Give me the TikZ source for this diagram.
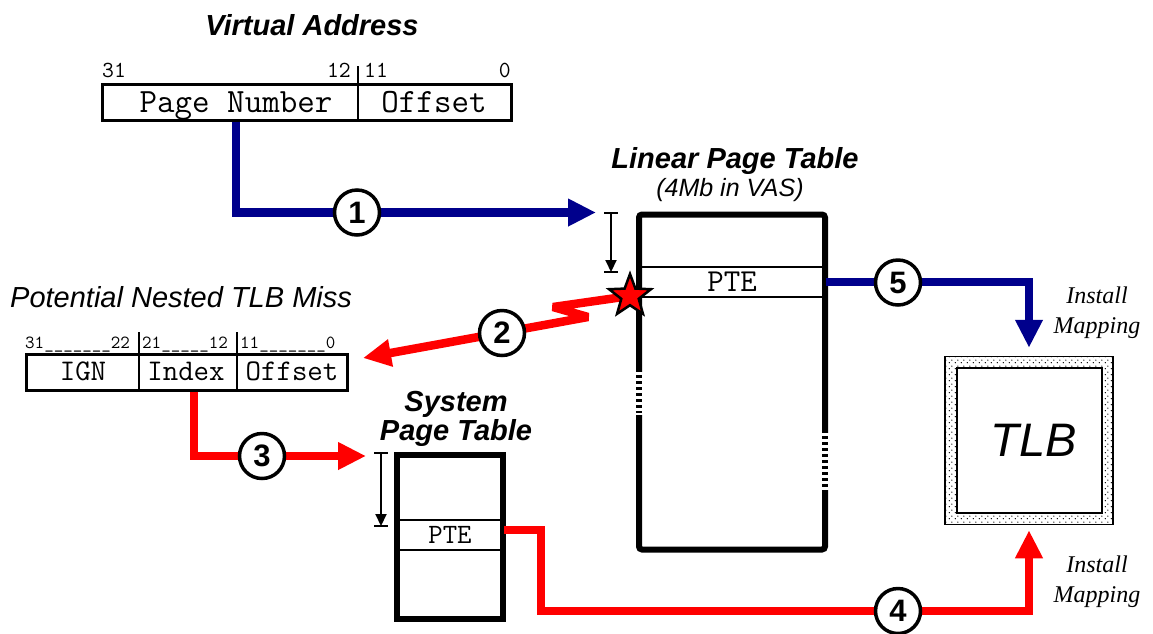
\documentclass[tikz,border=0pt]{standalone}
\usepackage{fontspec}
\setsansfont{Liberation Sans}
\newfontfamily\serifalt{Liberation Serif}
\usetikzlibrary{arrows.meta,shapes.geometric,patterns}

\definecolor{navy}{RGB}{0,0,140}
\definecolor{hotred}{RGB}{255,0,0}

\pgfdeclarepatternformonly{tlbdots}{\pgfqpoint{0pt}{0pt}}{\pgfqpoint{6pt}{6pt}}{\pgfqpoint{6pt}{6pt}}{%
  \pgfpathcircle{\pgfqpoint{1.5pt}{1.5pt}}{0.8pt}
  \pgfpathcircle{\pgfqpoint{4.5pt}{4.5pt}}{0.8pt}
  \pgfusepath{fill}}

\tikzset{
  heading/.style={font=\sffamily\bfseries\itshape\fontsize{29}{27}\selectfont, align=center, inner sep=0},
  remark/.style={font=\sffamily\itshape\fontsize{29}{29}\selectfont, inner sep=0},
  install/.style={font=\serifalt\itshape\fontsize{24}{30}\selectfont, align=center, inner sep=0},
  regbox/.style={draw, line width=3, inner sep=0, minimum height=36},
  addrfield/.style={inner sep=0, font=\ttfamily\fontsize{34}{34}\selectfont},
  bitnum/.style={inner sep=0, font=\ttfamily\fontsize{23}{23}\selectfont},
  pagetable/.style={draw, line width=6, inner sep=0},
  pterow/.style={draw, line width=2, inner sep=0, minimum height=30},
  flow/.style={line width=8.5, line join=miter, -{Triangle[length=28pt,width=26pt]}},
  blueflow/.style={flow, draw=navy},
  redflow/.style={flow, draw=hotred},
  stepnum/.style={circle, draw, line width=3.5, fill=white, minimum size=45, inner sep=0,
    font=\sffamily\bfseries\fontsize{31}{31}\selectfont},
  dimarrow/.style={line width=2, -{Triangle[length=12pt,width=11pt]}},
  missstar/.style={star, star points=5, star point ratio=2.4, fill=hotred, draw, line width=2.5,
    minimum size=44, inner sep=0},
}

\begin{document}
\begin{tikzpicture}[x=1pt,y=-1pt]
\useasboundingbox (0,0) rectangle (1153,633);

% virtual address
\node[heading] (va-title) at (312,25) {Virtual Address};
\node[regbox, minimum width=409] (va) at (306.5,102) {};
\node[addrfield, anchor=base] (va-pn) at (236,112) {Page Number};
\node[addrfield, anchor=base] (va-off) at (434,112) {Offset};
\draw[line width=2] (358,66) -- (358,120);
\node[bitnum, anchor=base west] (va-b31) at (102,77) {31};
\node[bitnum, anchor=base east] (va-b12) at (351,77) {12};
\node[bitnum, anchor=base west] (va-b11) at (364,77) {11};
\node[bitnum, anchor=base east] (va-b0) at (511,77) {0};

% linear page table
\node[heading, anchor=base] (lpt-title) at (735,168) {Linear Page Table};
\node[remark, anchor=base, font=\sffamily\itshape\fontsize{25}{25}\selectfont] (lpt-size) at (730,196) {(4Mb in VAS)};
\node[pagetable, rounded corners=3, minimum width=186, minimum height=335] (lpt) at (732,382) {};
\node[pterow, minimum width=186, font=\ttfamily\fontsize{32}{32}\selectfont] (lpt-pte) at (732,282) {PTE};
\draw[white, line width=8] (639,372) -- (639,415)
                           (825,433) -- (825,490);
\draw[line width=6, dash pattern=on 2.5pt off 3.5pt] (639,375) -- (639,413)
                                                     (825,436) -- (825,488);
\draw[dimarrow] (611,213) -- (611,272);
\draw[line width=2] (604,213) -- (618,213)
                    (604,272) -- (618,272);

% nested miss address
\node[remark, anchor=base west] (miss-title) at (10,307) {Potential Nested TLB Miss};
\node[regbox, minimum width=321] (na) at (186.5,372) {};
\node[addrfield, anchor=base, font=\ttfamily\fontsize{30}{30}\selectfont] (na-ign) at (83,380) {IGN};
\node[addrfield, anchor=base, font=\ttfamily\fontsize{30}{30}\selectfont] (na-idx) at (186,380) {Index};
\node[addrfield, anchor=base, font=\ttfamily\fontsize{30}{30}\selectfont] (na-off) at (292,380) {Offset};
\draw[line width=2] (139,332) -- (139,390)
                    (237,332) -- (237,390);
\node[bitnum, anchor=base west, font=\ttfamily\fontsize{18.5}{18.5}\selectfont] (na-b31) at (25,348) {31\_\_\_\_\_\_\_22};
\node[bitnum, anchor=base west, font=\ttfamily\fontsize{18.5}{18.5}\selectfont] (na-b21) at (142,348) {21\_\_\_\_\_12};
\node[bitnum, anchor=base west, font=\ttfamily\fontsize{18.5}{18.5}\selectfont] (na-b11) at (240,348) {11\_\_\_\_\_\_\_0};

% system page table
\node[heading, anchor=base] (spt-title) at (456,440) {System\\Page Table};
\node[pagetable, minimum width=106, minimum height=164] (spt) at (450,537) {};
\node[pterow, minimum width=106, font=\ttfamily\fontsize{28}{28}\selectfont] (spt-pte) at (450,535) {PTE};
\draw[dimarrow] (381,453) -- (381,526);
\draw[line width=2] (374,453) -- (388,453)
                    (374,526) -- (388,526);

% TLB
\node[draw, line width=1.5, pattern=tlbdots, minimum size=168, inner sep=0] (tlb) at (1029,440.5) {};
\node[draw, line width=2.5, fill=white, minimum width=145, minimum height=145, inner sep=0,
      font=\sffamily\itshape\fontsize{47}{47}\selectfont] (tlb-core) at (1029.5,440.5) {\,TLB};
\node[install, anchor=base] (inst-top) at (1097,333) {Install\\Mapping};
\node[install, anchor=base] (inst-bot) at (1097,602) {Install\\Mapping};

% flows
\coordinate (lpt-in) at (596,212.5);
\coordinate (miss-pt) at (630,296);
\coordinate (zig-a) at (553,307);
\coordinate (zig-b) at (588,317);
\coordinate (nest-in) at (363,358);
\coordinate (spt-in) at (366,456);
\coordinate (bend4) at (541,611);

\draw[blueflow] (va-pn |- va.south) |- (lpt-in);
\draw[redflow, line join=bevel] (miss-pt) -- (zig-a) -- (zig-b) -- (nest-in);
\draw[redflow] ([xshift=8pt]na-idx |- na.south) |- (spt-in);
\draw[redflow, shorten >=5pt] ([yshift=5pt]spt-pte.east) -| (bend4) -| (tlb.south);
\draw[blueflow, shorten >=8pt] (lpt-pte.east) -| (tlb.north);

\node[missstar] (miss) at (miss-pt) {};

\node[stepnum] (c1) at (357,212.5) {1};
\node[stepnum] (c2) at (502,333) {2};
\node[stepnum] (c3) at (262,456) {3};
\node[stepnum] (c4) at (898,611) {4};
\node[stepnum] (c5) at (898,282.5) {5};
\end{tikzpicture}
\end{document}
